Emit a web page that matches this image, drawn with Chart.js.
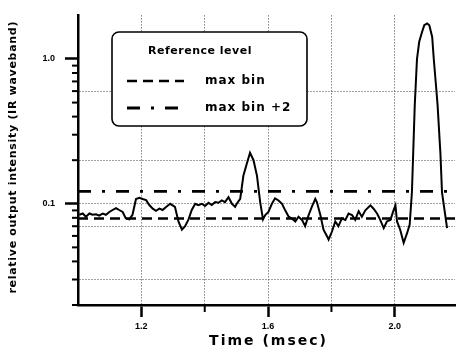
<!DOCTYPE html>
<html>
<head>
<meta charset="utf-8">
<script src="https://cdn.jsdelivr.net/npm/chart.js@4.4.0/dist/chart.umd.min.js"></script>
<style>
  html, body { margin: 0; padding: 0; background: #fff; }
</style>
</head>
<body>
<canvas id="intensityChart" width="457" height="349"></canvas>
<script>
const timeMs = [
  1.004, 1.015, 1.025, 1.036, 1.046, 1.057, 1.067, 1.078, 1.088, 1.099,
  1.109, 1.120, 1.130, 1.141, 1.151, 1.162, 1.172, 1.183, 1.194, 1.204,
  1.215, 1.225, 1.236, 1.246, 1.257, 1.267, 1.278, 1.291, 1.306, 1.317,
  1.328, 1.338, 1.349, 1.359, 1.370, 1.380, 1.391, 1.401, 1.412, 1.422,
  1.433, 1.443, 1.454, 1.464, 1.475, 1.486, 1.496, 1.501, 1.512, 1.522,
  1.533, 1.543, 1.554, 1.565, 1.575, 1.584, 1.591, 1.601, 1.612, 1.622,
  1.633, 1.644, 1.654, 1.665, 1.675, 1.686, 1.696, 1.707, 1.717, 1.728,
  1.738, 1.749, 1.754, 1.765, 1.775, 1.786, 1.791, 1.802, 1.812, 1.822,
  1.833, 1.844, 1.854, 1.865, 1.875, 1.886, 1.896, 1.907, 1.923, 1.933,
  1.944, 1.954, 1.965, 1.975, 1.986, 1.996, 2.002, 2.007, 2.017, 2.028,
  2.039, 2.047, 2.054, 2.058, 2.063, 2.070, 2.077, 2.086, 2.093, 2.102,
  2.109, 2.118, 2.123, 2.130, 2.135, 2.144, 2.149, 2.165
];
const intensity = [
  0.084, 0.0857, 0.0814, 0.0857, 0.084, 0.0845, 0.0828, 0.0857, 0.084, 0.0878,
  0.0906, 0.0934, 0.0906, 0.0878, 0.0792, 0.078, 0.084, 0.108, 0.110, 0.108,
  0.106, 0.098, 0.0925, 0.0895, 0.0925, 0.0906, 0.095, 0.1, 0.0952, 0.0755,
  0.0662, 0.0701, 0.078, 0.0906, 0.1, 0.0979, 0.1, 0.0966, 0.1017, 0.098,
  0.1027, 0.1017, 0.1054, 0.1027, 0.111, 0.1, 0.0952, 0.1, 0.108, 0.156,
  0.19, 0.225, 0.2, 0.156, 0.1027, 0.078, 0.0836, 0.0878, 0.1, 0.109,
  0.1054, 0.1, 0.0901, 0.0814, 0.0792, 0.0755, 0.0814, 0.0774, 0.0701, 0.0836,
  0.0952, 0.108, 0.1027, 0.0836, 0.0662, 0.0597, 0.0567, 0.0646, 0.0755, 0.0701,
  0.0792, 0.0774, 0.0857, 0.0836, 0.0774, 0.0889, 0.0814, 0.0901, 0.0975, 0.0925,
  0.0857, 0.0774, 0.0679, 0.0755, 0.0774, 0.0901, 0.0975, 0.0755, 0.0662, 0.0538,
  0.0629, 0.072, 0.12, 0.222, 0.482, 1.0, 1.315, 1.535, 1.71, 1.76,
  1.71, 1.42, 1.0, 0.656, 0.482, 0.222, 0.12, 0.068
];

// reference levels
const maxBin = 0.079;
const maxBinPlus2 = 0.122;

// axes
const xMin = 1.0, xMax = 2.19;
const yMin = 0.02, yMax = 2;
const xTickValues = [1.0, 1.2, 1.4, 1.6, 1.8, 2.0];
const xLabelTicks = [1.2, 1.6, 2.0];
const xGridTicks = [1.2, 1.4, 1.6, 1.8, 2.0];
const yLabelTicks = [1, 0.1];
const yGridTicks = [0.6, 0.2, 0.1, 0.07, 0.03];

const yTickValues = [];
[0.01, 0.1, 1].forEach(d => {
  for (let k = 1; k <= 9; k++) {
    const v = +(d * k).toPrecision(2);
    if (v >= yMin && v <= yMax) yTickValues.push(v);
  }
});

const dashMax = [10, 6];
const dashMax2 = [13, 11, 3, 11];
const clear = 'rgba(0,0,0,0)';

const inList = (list, v) => list.some(t => Math.abs(t - v) < 1e-9);

// minor ticks, legend box and axis titles
const extras = {
  id: 'extras',
  afterDraw(chart) {
    const ctx = chart.ctx;
    const xs = chart.scales.x, ys = chart.scales.y;
    const area = chart.chartArea;
    ctx.save();
    ctx.strokeStyle = '#000';
    ctx.lineWidth = 2;
    yTickValues.forEach(v => {
      if (inList(yLabelTicks, v) || v >= yMax) return;
      const py = ys.getPixelForValue(v);
      ctx.beginPath();
      ctx.moveTo(area.left - 6, py);
      ctx.lineTo(area.left, py);
      ctx.stroke();
    });
    xTickValues.forEach(v => {
      if (inList(xLabelTicks, v) || v === xMin) return;
      const px = xs.getPixelForValue(v);
      ctx.beginPath();
      ctx.moveTo(px, area.bottom);
      ctx.lineTo(px, area.bottom + 7);
      ctx.stroke();
    });

    // legend box
    ctx.beginPath();
    ctx.roundRect(112, 32, 195, 94, 7);
    ctx.fillStyle = '#fff';
    ctx.fill();
    ctx.lineWidth = 1.6;
    ctx.stroke();

    ctx.fillStyle = '#000';
    ctx.textBaseline = 'middle';
    ctx.textAlign = 'center';
    ctx.font = 'bold 11px "DejaVu Sans"';
    ctx.letterSpacing = '0.5px';
    ctx.fillText('Reference level', 200, 51);

    ctx.textAlign = 'left';
    ctx.font = 'bold 12px "DejaVu Sans"';
    ctx.letterSpacing = '1px';
    ctx.fillText('max bin', 205, 81);
    ctx.fillText('max bin +2', 205, 108);

    ctx.lineWidth = 2.5;
    ctx.setLineDash(dashMax);
    ctx.beginPath();
    ctx.moveTo(127, 81);
    ctx.lineTo(184, 81);
    ctx.stroke();
    ctx.lineWidth = 2.8;
    ctx.setLineDash(dashMax2);
    ctx.beginPath();
    ctx.moveTo(127, 108);
    ctx.lineTo(180, 108);
    ctx.stroke();
    ctx.setLineDash([]);

    // axis titles
    ctx.textAlign = 'center';
    ctx.font = 'bold 14px "DejaVu Sans"';
    ctx.letterSpacing = '2px';
    ctx.fillText('Time (msec)', (area.left + area.right) / 2 + 2, 341);

    ctx.translate(13, (area.top + area.bottom) / 2 - 3);
    ctx.rotate(-Math.PI / 2);
    ctx.font = 'bold 11px "DejaVu Sans"';
    ctx.letterSpacing = '0.7px';
    ctx.fillText('relative output intensity (IR waveband)', 0, 0);
    ctx.restore();
  }
};

const ctx = document.getElementById('intensityChart').getContext('2d');
const intensityChart = new Chart(ctx, {
  type: 'line',
  data: {
    datasets: [{
      label: 'intensity',
      data: timeMs.map((t, i) => ({ x: t, y: intensity[i] })),
      borderColor: '#000',
      borderWidth: 2,
      pointRadius: 0,
      tension: 0,
      fill: false
    }, {
      label: 'max bin',
      data: [{ x: xMin, y: maxBin }, { x: xMax, y: maxBin }],
      borderColor: '#000',
      borderWidth: 2.5,
      borderDash: dashMax,
      pointRadius: 0
    }, {
      label: 'max bin +2',
      data: [{ x: xMin, y: maxBinPlus2 }, { x: xMax, y: maxBinPlus2 }],
      borderColor: '#000',
      borderWidth: 2.8,
      borderDash: dashMax2,
      pointRadius: 0
    }]
  },
  options: {
    responsive: false,
    animation: false,
    devicePixelRatio: 1,
    layout: { padding: { top: 9, right: 2, left: 0, bottom: 0 } },
    scales: {
      x: {
        type: 'linear',
        min: xMin,
        max: xMax,
        afterBuildTicks: s => { s.ticks = xTickValues.map(v => ({ value: v })); },
        afterFit: s => { s.height = 44; },
        ticks: {
          autoSkip: false,
          maxRotation: 0,
          padding: 4,
          color: '#000',
          font: { family: 'Liberation Sans', weight: 'bold', size: 9 },
          callback: v => inList(xLabelTicks, v) ? v.toFixed(1) : ''
        },
        grid: {
          color: c => c.tick && inList(xGridTicks, c.tick.value) ? '#444' : clear,
          lineWidth: 1,
          tickLength: 12,
          tickWidth: 2.5,
          tickColor: c => c.tick && inList(xLabelTicks, c.tick.value) ? '#000' : clear
        },
        border: { color: '#000', width: 2.5, dash: [1, 2] }
      },
      y: {
        type: 'logarithmic',
        min: yMin,
        max: yMax,
        afterBuildTicks: s => { s.ticks = yTickValues.map(v => ({ value: v })); },
        afterFit: s => { s.width = 78; },
        ticks: {
          autoSkip: false,
          padding: 10,
          color: '#000',
          font: { family: 'Liberation Sans', weight: 'bold', size: 9 },
          callback: v => v === 1 ? '1.0' : (v === 0.1 ? '0.1' : '')
        },
        grid: {
          color: c => c.tick && inList(yGridTicks, c.tick.value) ? '#444' : clear,
          lineWidth: 1,
          tickLength: 13,
          tickWidth: 2.5,
          tickColor: c => c.tick && inList(yLabelTicks, c.tick.value) ? '#000' : clear
        },
        border: { color: '#000', width: 2.5, dash: [1, 2] }
      }
    },
    plugins: {
      legend: { display: false },
      tooltip: { enabled: false }
    }
  },
  plugins: [extras]
});
</script>
</body>
</html>
